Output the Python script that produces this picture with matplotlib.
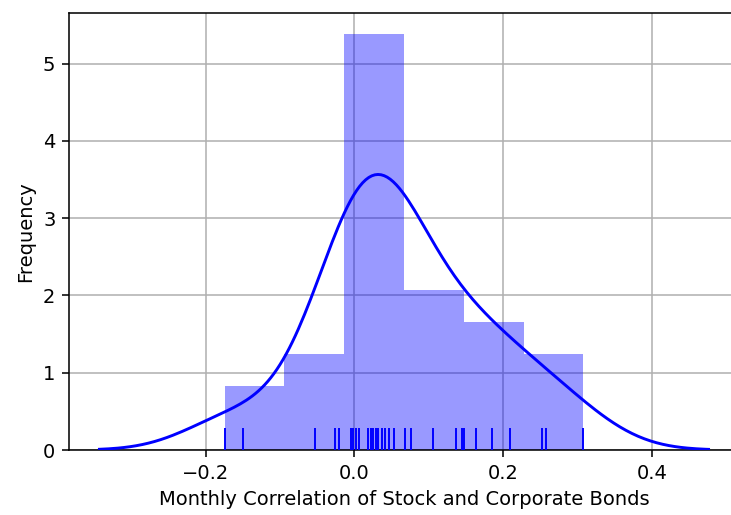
import matplotlib
matplotlib.use("Agg")
import matplotlib.pyplot as plt
import numpy as np

# monthly correlations
corr = [-0.1745, -0.150,
        -0.0527, -0.0266, -0.0212,
        -0.0050, -0.0014, 0.0023, 0.0064, 0.0189, 0.0223, 0.0257, 0.0291,
        0.0324, 0.037, 0.0415, 0.0459, 0.0527,
        0.068, 0.076, 0.106, 0.1365, 0.1446,
        0.148, 0.164, 0.185, 0.210,
        0.2527, 0.258, 0.308]
n_bins = 6
x_label = "Monthly Correlation of Stock and Corporate Bonds"
y_label = "Frequency"

data = np.array(corr)

# gaussian kde; support = scott bw * 3, kernel a bit wider to match the curve
scott = data.std(ddof=1) * len(data) ** (-1 / 5)
bw = 1.15 * scott
grid = np.linspace(data.min() - 3 * scott, data.max() + 3 * scott, 200)
dens = np.exp(-0.5 * ((grid[:, None] - data[None, :]) / bw) ** 2).sum(axis=1)
dens /= len(data) * bw * np.sqrt(2 * np.pi)

fig = plt.figure(figsize=(731 / 140, 515 / 140), dpi=140)
ax = fig.add_axes([69 / 731, 65 / 515, 670 / 731, 437.3 / 515])

counts, edges, _ = ax.hist(data, bins=n_bins, density=True, color="blue",
                           alpha=0.4, zorder=2)
ax.plot(grid, dens, color="blue", lw=1.5, zorder=3)
ax.vlines(data, 0, 0.05, transform=ax.get_xaxis_transform(), color="blue",
          lw=1, zorder=3)

ax.set_ylim(0, 1.05 * counts.max())
ax.margins(x=0.05)
ax.set_xticks([-0.2, 0.0, 0.2, 0.4])
ax.set_yticks([0, 1, 2, 3, 4, 5])
ax.grid(True, color="#b0b0b0", lw=0.8, zorder=0)
ax.set_axisbelow(True)
ax.set_xlabel(x_label)
ax.set_ylabel(y_label)

fig.savefig("out.png", dpi=140)
